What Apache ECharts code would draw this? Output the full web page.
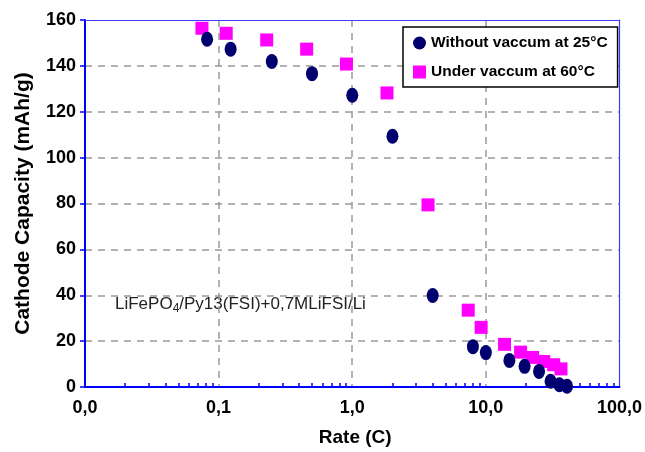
<!DOCTYPE html>
<html>
<head>
<meta charset="utf-8">
<script src="https://cdn.jsdelivr.net/npm/echarts@6/dist/echarts.min.js"></script>
<style>
  html, body { margin: 0; padding: 0; background: #fff; }
  #chart { width: 645px; height: 452px; }
</style>
</head>
<body>
<div id="chart"></div>
<script>
// without vaccum at 25°C
const rateA = [0.082, 0.123, 0.25, 0.5, 1.0, 2.0, 4.0, 8.0, 10, 15, 19.5, 25, 30.5, 35.5, 40.5]
const capA = [151.6, 147.3, 141.9, 136.6, 127.2, 109.3, 39.9, 17.6, 15.0, 11.6, 9.0, 6.8, 2.5, 1.0, 0.3]
// under vaccum at 60°C
const rateB = [0.075, 0.114, 0.229, 0.456, 0.905, 1.82, 3.69, 7.38, 9.22, 13.8, 18.2, 22.4, 27.1, 32.2, 36.5]
const capB = [156.4, 154.2, 151.3, 147.3, 140.8, 128.2, 79.4, 33.5, 26.0, 18.6, 15.2, 12.9, 11.1, 9.7, 7.9]

const nameA = 'Without vaccum at 25°C'
const nameB = 'Under vaccum at 60°C'

// minor ticks 2..9 in every decade
const decades = [0.01, 0.1, 1, 10]
const minorTicks = []
decades.forEach(d => {
  for (let k = 2; k <= 9; k++) minorTicks.push(+(d * k).toPrecision(3))
})

const blue = '#0000ff'
const ellipse = 'path://M0,-1A1,1 0 1,1 0,1A1,1 0 1,1 0,-1Z'
const font = 'Liberation Sans, Arial, sans-serif'
const gridDash = { color: '#999', width: 1.5, type: [7, 6] }

let chart = echarts.init(document.getElementById('chart'))
let option = {
  animation: false,
  textStyle: { fontFamily: font },
  grid: { left: 85, right: 23, top: 20, bottom: 63 },
  legend: {
    orient: 'vertical',
    left: 403,
    top: 27,
    padding: [8, 10, 7, 10],
    itemGap: 13,
    itemWidth: 13,
    itemHeight: 13,
    borderColor: '#000',
    borderWidth: 1.5,
    backgroundColor: '#fff',
    textStyle: { fontSize: 15.5, fontWeight: 'bold', color: '#000', fontFamily: font },
    data: [
      { name: nameA, icon: ellipse, itemStyle: { color: '#00006e' } },
      { name: nameB, icon: 'rect' }
    ]
  },
  xAxis: [{
    type: 'log',
    logBase: 10,
    min: 0.01,
    max: 100,
    name: 'Rate (C)',
    nameLocation: 'middle',
    nameGap: 41,
    nameTextStyle: { fontSize: 19, fontWeight: 'bold', color: '#000', fontFamily: font, padding: [0, 0, 0, 6] },
    axisLine: { lineStyle: { color: blue, width: 2 } },
    axisTick: { show: false },
    axisLabel: {
      fontSize: 18,
      fontWeight: 'bold',
      color: '#000',
      margin: 12,
      formatter: v => v.toFixed(1).replace('.', ',')
    },
    splitLine: { show: true, showMinLine: false, showMaxLine: false, lineStyle: gridDash }
  }, {
    type: 'log',
    logBase: 10,
    min: 0.01,
    max: 100,
    position: 'bottom',
    axisLine: { show: false },
    axisTick: { show: true, inside: true, length: 4, customValues: minorTicks, lineStyle: { color: blue, width: 1.5 } },
    axisLabel: { show: false },
    splitLine: { show: false }
  }, {
    type: 'log',
    logBase: 10,
    min: 0.01,
    max: 100,
    position: 'top',
    axisLine: { lineStyle: { color: '#3c3cff', width: 1.2 } },
    axisTick: { show: false },
    axisLabel: { show: false },
    splitLine: { show: false }
  }],
  yAxis: [{
    type: 'value',
    min: 0,
    max: 160,
    interval: 20,
    name: 'Cathode Capacity (mAh/g)',
    nameLocation: 'middle',
    nameGap: 51,
    nameTextStyle: { fontSize: 21, fontWeight: 'bold', color: '#000', fontFamily: font },
    axisLine: { show: true, lineStyle: { color: blue, width: 2 } },
    axisTick: { show: true, length: 5, lineStyle: { color: blue, width: 1.5 } },
    axisLabel: { fontSize: 18, fontWeight: 'bold', color: '#000', margin: 9 },
    splitLine: { show: true, showMinLine: false, showMaxLine: false, lineStyle: gridDash }
  }, {
    type: 'value',
    min: 0,
    max: 160,
    position: 'right',
    axisLine: { show: true, lineStyle: { color: '#3c3cff', width: 1.2 } },
    axisTick: { show: false },
    axisLabel: { show: false },
    splitLine: { show: false }
  }],
  graphic: [{
    type: 'text',
    left: 115,
    top: 296,
    style: {
      text: '{a|LiFePO}{s|4}{a|/Py13(FSI)+0,7MLiFSI/Li}',
      rich: {
        a: { fontSize: 17, lineHeight: 21, fill: '#222', fontFamily: font },
        s: { fontSize: 12, lineHeight: 12, verticalAlign: 'bottom', fill: '#222', fontFamily: font }
      }
    }
  }],
  series: [{
    name: nameB,
    type: 'scatter',
    z: 2,
    symbol: 'rect',
    symbolSize: [13, 13],
    itemStyle: { color: '#ff00ff', opacity: 1 },
    data: rateB.map((r, i) => [r, capB[i]])
  }, {
    name: nameA,
    type: 'scatter',
    z: 3,
    symbol: ellipse,
    symbolSize: [12, 15],
    itemStyle: { color: '#00006e', opacity: 1 },
    data: rateA.map((r, i) => [r, capA[i]])
  }]
}
chart.setOption(option)
</script>
</body>
</html>
